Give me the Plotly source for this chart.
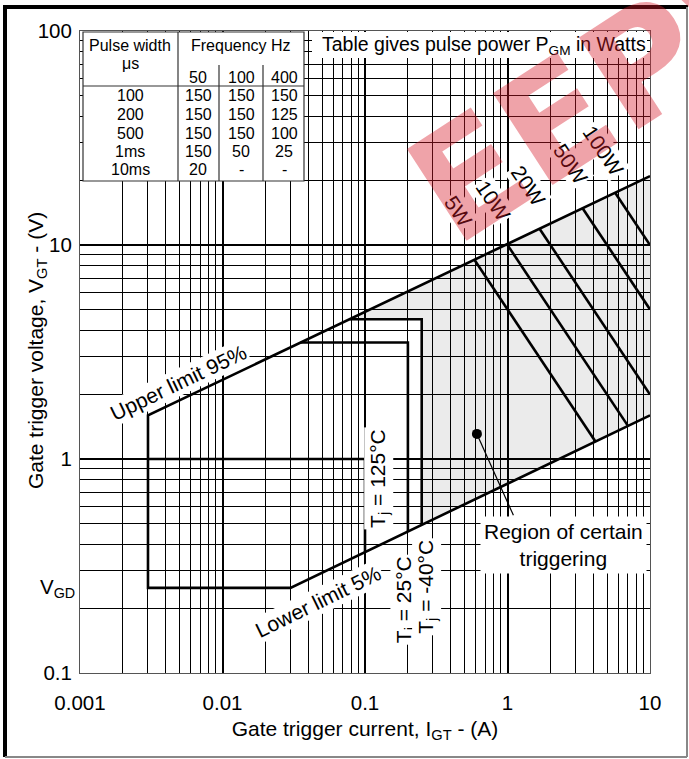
import math
import plotly.graph_objects as go

# ---------------- data ----------------
i_ticks = [0.001, 0.01, 0.1, 1, 10]
i_ticktext = ["0.001", "0.01", "0.1", "1", "10"]
v_ticks = [0.1, 1, 10, 100]
v_ticktext = ["0.1", "1", "10", "100"]
v_gd = 0.25

# upper (95 %) and lower (5 %) limit lines, gate current (A) / gate voltage (V)
upper_I = [0.003, 10]
upper_V = [1.6, 21]
lower_I = [0.03, 10]
lower_V = [0.25, 1.6]

# temperature boxes: label, right-edge current, top voltage
tj_names = ["125", "25", "-40"]
tj_I_edge = [0.1, 0.2, 0.25]
tj_V_top = [1.0, 3.5, 4.5]

# constant pulse power lines (W)
powers = [5, 10, 20, 50, 100]
power_label_I = [0.452, 0.794, 1.40, 2.75, 4.70]
power_label_V = [14.3, 16.2, 19.0, 24.0, 27.7]

# "region of certain triggering" pointer
region_dot_I = [0.61]
region_dot_V = [1.31]
region_ptr_I = [0.61, 1.10]
region_ptr_V = [1.31, 0.546]

# pulse power table
pulse_widths = ["100", "200", "500", "1ms", "10ms"]
freqs = ["50", "100", "400"]
pgm_50 = ["150", "150", "150", "150", "20"]
pgm_100 = ["150", "150", "150", "50", "-"]
pgm_400 = ["150", "125", "100", "25", "-"]

# ---------------- helpers ----------------
def params(I, V):
    b = (math.log10(V[1]) - math.log10(V[0])) / (math.log10(I[1]) - math.log10(I[0]))
    a = math.log10(V[0]) - b * math.log10(I[0])
    return a, b

def v_on(i, p):
    return 10 ** (p[0] + p[1] * math.log10(i))

def i_on(v, p):
    return 10 ** ((math.log10(v) - p[0]) / p[1])

up = params(upper_I, upper_V)
lo = params(lower_I, lower_V)

FONT = "Liberation Sans, Arial, sans-serif"
BLACK = "black"
LW = 2.6

fig = go.Figure()

# shaded region of certain triggering (right of the -40 C box)
top_edge_I = i_on(tj_V_top[2], up)
reg_I = [top_edge_I, tj_I_edge[2], tj_I_edge[2], lower_I[1], upper_I[1], top_edge_I]
reg_V = [tj_V_top[2], tj_V_top[2], v_on(tj_I_edge[2], lo), lower_V[1], upper_V[1], tj_V_top[2]]
fig.add_trace(go.Scatter(x=reg_I, y=reg_V, mode="lines", fill="toself",
                         fillcolor="rgba(0,0,0,0.08)", line=dict(width=0),
                         hoverinfo="skip", showlegend=False))

# constant power hatch lines
for P in powers:
    i0 = 10 ** ((math.log10(P) - up[0]) / (1 + up[1]))
    i1 = min(10 ** ((math.log10(P) - lo[0]) / (1 + lo[1])), upper_I[1])
    fig.add_trace(go.Scatter(x=[i0, i1], y=[P / i0, P / i1], mode="lines",
                             line=dict(color=BLACK, width=LW), showlegend=False))

# temperature boxes
for name, ie, vt in zip(tj_names, tj_I_edge, tj_V_top):
    i_start = max(upper_I[0], i_on(vt, up))
    fig.add_trace(go.Scatter(x=[i_start, ie, ie], y=[vt, vt, v_on(ie, lo)], mode="lines",
                             line=dict(color=BLACK, width=LW), showlegend=False))

# outline of limits
fig.add_trace(go.Scatter(
    x=[upper_I[1], upper_I[0], upper_I[0], lower_I[0], lower_I[1]],
    y=[upper_V[1], upper_V[0], lower_V[0], lower_V[0], lower_V[1]],
    mode="lines", line=dict(color=BLACK, width=LW), showlegend=False))

# pointer
fig.add_trace(go.Scatter(x=region_ptr_I, y=region_ptr_V, mode="lines",
                         line=dict(color=BLACK, width=1.2), showlegend=False))
fig.add_trace(go.Scatter(x=region_dot_I, y=region_dot_V, mode="markers",
                         marker=dict(color=BLACK, size=10), showlegend=False))

# ---------------- axes ----------------
def minor_vals(e0, e1):
    return [m * 10 ** e for e in range(e0, e1) for m in range(2, 10)]

fig.update_xaxes(type="log", range=[-3, 1], tickvals=i_ticks, ticktext=i_ticktext,
                 showgrid=True, gridcolor=BLACK, gridwidth=2,
                 minor=dict(tickmode="array", tickvals=minor_vals(-3, 1), showgrid=True,
                            gridcolor=BLACK, gridwidth=1, ticks=""),
                 showline=True, linecolor="#555", linewidth=1, mirror=True,
                 ticks="", ticklabelstandoff=11,
                 tickfont=dict(family=FONT, size=20.5, color=BLACK),
                 title=dict(text="Gate trigger current, I<sub>GT</sub> - (A)",
                            font=dict(family=FONT, size=21, color=BLACK), standoff=8))
fig.update_yaxes(type="log", range=[-1, 2], tickvals=v_ticks, ticktext=v_ticktext,
                 showgrid=True, gridcolor=BLACK, gridwidth=1.6,
                 minor=dict(tickmode="array", tickvals=minor_vals(-1, 2), showgrid=True,
                            gridcolor=BLACK, gridwidth=1, ticks=""),
                 showline=True, linecolor="#555", linewidth=1, mirror=True,
                 ticks="", ticklabelstandoff=3,
                 tickfont=dict(family=FONT, size=20.5, color=BLACK))

# ---------------- layout positions (paper coords) ----------------
L, R, T, B = 80, 39, 31, 86
W, H = 689, 759
pw, ph = W - L - R, H - T - B

def px(xp):
    return (xp - L) / pw

def py(yp):
    return (H - B - yp) / ph

shapes = []
# outer frame
shapes.append(dict(type="line", xref="paper", yref="paper", x0=px(5), x1=px(5), y0=py(757), y1=py(7),
                   line=dict(color=BLACK, width=4)))
shapes.append(dict(type="line", xref="paper", yref="paper", x0=px(3), x1=px(688), y0=py(7), y1=py(7),
                   line=dict(color=BLACK, width=4)))
shapes.append(dict(type="line", xref="paper", yref="paper", x0=px(5), x1=px(687), y0=py(757), y1=py(757),
                   line=dict(color="#888", width=2)))
shapes.append(dict(type="line", xref="paper", yref="paper", x0=px(687), x1=px(687), y0=py(757), y1=py(7),
                   line=dict(color="#888", width=2)))

# table box
tx0, tx1, ty0, ty1 = 83, 304, 32, 181
shapes.append(dict(type="rect", xref="paper", yref="paper", x0=px(tx0), x1=px(tx1), y0=py(ty1), y1=py(ty0),
                   fillcolor="white", line=dict(color="#333", width=1.2), layer="above"))
shapes.append(dict(type="line", xref="paper", yref="paper", x0=px(178), x1=px(178), y0=py(ty1), y1=py(ty0),
                   line=dict(color="#333", width=1.2), layer="above"))
for xv in (219, 263):
    shapes.append(dict(type="line", xref="paper", yref="paper", x0=px(xv), x1=px(xv), y0=py(ty1), y1=py(65),
                       line=dict(color="#333", width=1.2), layer="above"))
shapes.append(dict(type="line", xref="paper", yref="paper", x0=px(tx0), x1=px(tx1), y0=py(86), y1=py(86),
                   line=dict(color="#333", width=1.2), layer="above"))
# white box behind table caption
shapes.append(dict(type="rect", xref="paper", yref="paper", x0=px(312), x1=px(647), y0=py(58), y1=py(32),
                   fillcolor="white", line=dict(width=0), layer="above"))

ann = []

def add_paper_text(text, xp, yp, size=16, **kw):
    ann.append(dict(text=text, xref="paper", yref="paper", x=px(xp), y=py(yp), showarrow=False,
                    xanchor="center", yanchor="middle", font=dict(family=FONT, size=size, color=BLACK), **kw))

add_paper_text("Pulse width", 130, 45)
add_paper_text("μs", 130, 64)
add_paper_text("Frequency Hz", 241, 45)
col_x = [198, 241, 284]
for f, cx in zip(freqs, col_x):
    add_paper_text(f, cx, 77)
row_y = [96, 114.5, 133, 151.5, 170]
for k, ry in enumerate(row_y):
    add_paper_text(pulse_widths[k], 130, ry)
    add_paper_text(pgm_50[k], col_x[0], ry)
    add_paper_text(pgm_100[k], col_x[1], ry)
    add_paper_text(pgm_400[k], col_x[2], ry)
add_paper_text("Table gives pulse power P<sub>GM</sub> in Watts", 484, 45, size=19.5)

# y axis title
add_paper_text("Gate trigger voltage, V<sub>GT</sub> - (V)", 37, 351, size=21, textangle=-90)

# V_GD tick label
ann.append(dict(text="V<sub>GD</sub>", xref="paper", yref="y", x=px(77), y=math.log10(v_gd),
                showarrow=False, xanchor="right", yanchor="middle",
                font=dict(family=FONT, size=20.5, color=BLACK)))

def add_data_text(text, i, v, angle=0, size=21, bg="white"):
    ann.append(dict(text=text, xref="x", yref="y", x=math.log10(i), y=math.log10(v), showarrow=False,
                    xanchor="center", yanchor="middle", textangle=angle, bgcolor=bg, borderpad=1,
                    font=dict(family=FONT, size=size, color=BLACK)))

add_data_text("Upper limit 95%", 0.0049, 2.29, angle=-25.5)
add_data_text("Lower limit 5%", 0.047, 0.215, angle=-26)
add_data_text("T<sub>j</sub> = 125°C", 0.124, 0.81, angle=-90)
add_data_text("T<sub>j</sub> = 25°C", 0.191, 0.219, angle=-90)
add_data_text("T<sub>j</sub> = -40°C", 0.271, 0.252, angle=-90)
for P, li, lv in zip(powers, power_label_I, power_label_V):
    add_data_text(f"{P}W", li, lv, angle=56)
ann.append(dict(text="Region of certain<br>triggering", xref="x", yref="y",
                x=math.log10(2.49), y=math.log10(0.395), showarrow=False,
                xanchor="center", yanchor="middle", bgcolor="white", borderpad=3,
                font=dict(family=FONT, size=21, color=BLACK)))

# watermark
ann.append(dict(text="<b>EEPW</b>", xref="paper", yref="paper", x=px(628), y=py(74), showarrow=False,
                xanchor="center", yanchor="middle", textangle=-33,
                font=dict(family="DejaVu Sans, sans-serif", size=150, color="rgba(215,25,40,0.40)")))

fig.update_layout(width=W, height=H, margin=dict(l=L, r=R, t=T, b=B),
                  paper_bgcolor="white", plot_bgcolor="white",
                  shapes=shapes, annotations=ann, showlegend=False,
                  font=dict(family=FONT, color=BLACK))

fig.write_html("out.html", config={"displayModeBar": False},
               post_script="document.body.style.margin='0';document.body.style.overflow='hidden';")
